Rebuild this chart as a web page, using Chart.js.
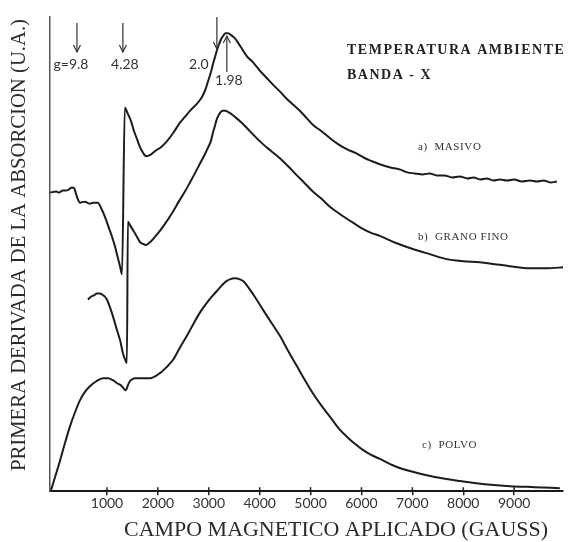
<!DOCTYPE html>
<html>
<head>
<meta charset="utf-8">
<script src="https://cdn.jsdelivr.net/npm/chart.js@4.4.0/dist/chart.umd.min.js"></script>
<style>
  html, body { margin: 0; padding: 0; background: #fff; }
  #wrap { width: 574px; height: 542px; }
</style>
</head>
<body>
<div id="wrap"><canvas id="chart"></canvas></div>
<script>
// tick labels on the field axis (gauss)
const fieldTicks = [1000, 2000, 3000, 4000, 5000, 6000, 7000, 8000, 9000];

// a) MASIVO
const masivoX = [-115, 0, 60, 130, 190, 250, 310, 360, 390, 430,
  470, 560, 660, 740, 820, 890, 960, 1030, 1100, 1160,
  1210, 1260, 1295, 1350, 1410, 1470, 1530, 1590, 1640, 1690,
  1740, 1780, 1840, 1940, 2060, 2180, 2300, 2430, 2530, 2630,
  2730, 2830, 2890, 2940, 2990, 3040, 3080, 3120, 3160, 3200,
  3240, 3280, 3330, 3380, 3440, 3510, 3620, 3750, 3870, 4000,
  4130, 4260, 4400, 4530, 4660, 4790, 4920, 5050, 5210, 5380,
  5540, 5710, 5890, 6070, 6210, 6360, 6550, 6750, 6900, 7050,
  7200, 7340, 7480, 7630, 7780, 7930, 8080, 8200, 8330, 8460,
  8590, 8720, 8860, 9000, 9150, 9310, 9450, 9580, 9710, 9840];
const masivoY = [296, 297, 296, 298, 298, 299, 301, 300, 295, 289,
  286, 287, 285, 286, 286, 280, 272, 262, 252, 242,
  232, 222, 215, 380, 374, 367, 357, 349, 342, 337,
  333, 332, 333, 337, 341, 347, 355, 365, 371, 377,
  382, 388, 393, 399, 407, 415, 423, 430, 437, 443,
  448, 451, 454, 454, 452, 449, 441, 431, 425, 417,
  410, 403, 396, 389, 383, 377, 370, 363, 357, 350,
  344, 339, 335, 330, 327, 324, 321, 319, 316, 315,
  314, 315, 313, 313, 311, 312, 310, 311, 309, 310,
  308, 309, 308, 309, 307, 308, 307, 308, 306, 307];

// b) GRANO FINO
const granoX = [625, 690, 743, 800, 861, 930, 998, 1100, 1194, 1260,
  1312, 1360, 1391, 1410, 1460, 1509, 1580, 1646, 1710, 1764,
  1850, 1941, 2098, 2295, 2410, 2531, 2630, 2727, 2830, 2923,
  2980, 3041, 3080, 3120, 3160, 3198, 3240, 3277, 3330, 3375,
  3440, 3513, 3630, 3748, 3900, 4063, 4230, 4397, 4560, 4731,
  4890, 5045, 5210, 5379, 5540, 5713, 5870, 6027, 6190, 6361,
  6680, 7009, 7340, 7677, 8000, 8326, 8620, 8916, 9308, 9650,
  9990];
const granoY = [190, 193, 194, 196, 196, 194, 190, 176, 160, 149,
  137, 130, 127, 267, 263, 259, 253, 247, 245, 244,
  247, 252, 262, 277, 287, 297, 306, 315, 325, 334,
  340, 347, 355, 362, 369, 373, 376, 377, 377, 376,
  374, 371, 366, 360, 352, 344, 337, 330, 322, 313,
  305, 297, 290, 282, 276, 270, 265, 260, 256, 253,
  246, 240, 235, 230, 228, 227, 225, 223, 221, 221,
  222];

// c) POLVO
const polvoX = [-100, 75, 170, 271, 370, 468, 560, 664, 790, 919,
  1020, 1115, 1200, 1293, 1340, 1371, 1410, 1450, 1500, 1548,
  1700, 1843, 2039, 2170, 2295, 2430, 2570, 2700, 2825, 2950,
  3080, 3170, 3257, 3340, 3414, 3513, 3611, 3680, 3748, 3900,
  4063, 4230, 4397, 4560, 4731, 4890, 5045, 5210, 5379, 5540,
  5713, 5870, 6027, 6190, 6361, 6650, 6950, 7440, 7933, 8420,
  8916, 9400, 9898];
const polvoY = [1, 30, 47, 64, 78, 90, 98, 104, 109, 112,
  112, 110, 107, 104, 101, 100, 105, 109, 111, 112,
  112, 112, 117, 123, 130, 142, 154, 166, 177, 186,
  194, 199, 204, 208, 210, 211, 210, 208, 204, 193,
  180, 167, 154, 139, 124, 110, 97, 85, 74, 63,
  54, 47, 41, 36, 32, 25, 20, 14, 10, 7,
  5, 4, 3];

// g-value markers (field in gauss)
const markerField = [410, 1312, 3159, 3355];
const markerText = ["g=9.8", "4.28", "2.0", "1.98"];

const seriesNames = ["a)  MASIVO", "b)  GRANO FINO", "c)  POLVO"];

function pts(xs, ys) {
  return xs.map((x, i) => ({ x: x, y: ys[i] }));
}

const ink = "#1c1c1c";
const serif = '"Liberation Serif", "DejaVu Serif", serif';
const sans = 'Lato, "DejaVu Sans", sans-serif';

const annotations = {
  id: "annotations",
  afterDraw(chart) {
    const ctx = chart.ctx;
    const xs = chart.scales.x;
    const area = chart.chartArea;
    ctx.save();

    // upper half of the tick crosses
    ctx.strokeStyle = "#222";
    ctx.lineWidth = 1.5;
    fieldTicks.forEach(v => {
      const x = xs.getPixelForValue(v);
      ctx.beginPath();
      ctx.moveTo(x, area.bottom);
      ctx.lineTo(x, area.bottom - 4);
      ctx.stroke();
    });

    ctx.strokeStyle = "#333";
    ctx.fillStyle = "#333";
    ctx.lineWidth = 1.2;

    function arrow(x, y1, y2) {
      ctx.beginPath();
      ctx.moveTo(x, y1);
      ctx.lineTo(x, y2);
      ctx.stroke();
      const d = y2 > y1 ? -1 : 1;
      ctx.beginPath();
      ctx.moveTo(x - 3.5, y2 + d * 7);
      ctx.lineTo(x, y2);
      ctx.lineTo(x + 3.5, y2 + d * 7);
      ctx.stroke();
    }

    // g arrows
    const px = markerField.map(v => xs.getPixelForValue(v));
    arrow(px[0], 23, 52);
    arrow(px[1], 23, 52);
    arrow(px[2], 17, 49);
    arrow(px[3], 72, 36);

    ctx.font = "14px " + sans;
    ctx.textBaseline = "middle";
    ctx.textAlign = "center";
    ctx.fillText(markerText[0], px[0] - 6, 64);
    ctx.fillText(markerText[1], px[1] + 2, 64);
    ctx.fillText(markerText[2], px[2] - 18, 64);
    ctx.fillText(markerText[3], px[3] + 2, 80);

    // header
    ctx.fillStyle = "#222";
    ctx.textAlign = "left";
    ctx.font = "bold 14px " + serif;
    ctx.letterSpacing = "1.5px";
    ctx.fillText("TEMPERATURA AMBIENTE", 347, 50, 224);
    ctx.fillText("BANDA - X", 347, 75);

    // series labels
    ctx.font = "11px " + serif;
    ctx.letterSpacing = "0.6px";
    ctx.fillStyle = "#333";
    ctx.fillText(seriesNames[0], 418, 147);
    ctx.fillText(seriesNames[1], 418, 237);
    ctx.fillText(seriesNames[2], 422, 445);

    // axis titles
    ctx.letterSpacing = "0px";
    ctx.fillStyle = "#2a2a2a";
    ctx.font = "22px " + serif;
    ctx.textAlign = "center";
    ctx.fillText("CAMPO MAGNETICO APLICADO (GAUSS)", 336, 530, 424);
    ctx.translate(19, 245);
    ctx.rotate(-Math.PI / 2);
    ctx.font = "21px " + serif;
    ctx.fillText("PRIMERA DERIVADA DE LA ABSORCION (U.A.)", 0, 0, 452);
    ctx.restore();
  }
};

const lineStyle = {
  borderColor: ink,
  borderWidth: 2,
  pointRadius: 0,
  fill: false,
  cubicInterpolationMode: "monotone"
};

new Chart(document.getElementById("chart"), {
  type: "line",
  data: {
    datasets: [
      Object.assign({ label: seriesNames[0], data: pts(masivoX, masivoY) }, lineStyle),
      Object.assign({ label: seriesNames[1], data: pts(granoX, granoY) }, lineStyle),
      Object.assign({ label: seriesNames[2], data: pts(polvoX, polvoY) }, lineStyle)
    ]
  },
  options: {
    responsive: true,
    maintainAspectRatio: false,
    animation: false,
    layout: { padding: { left: 50, right: 11, top: 17, bottom: 30 } },
    plugins: {
      legend: { display: false },
      title: { display: false },
      tooltip: { enabled: false }
    },
    scales: {
      x: {
        type: "linear",
        min: -120,
        max: 9960,
        afterBuildTicks: s => { s.ticks = fieldTicks.map(v => ({ value: v })); },
        grid: { drawOnChartArea: false, drawTicks: true, tickLength: 4, color: "#222", lineWidth: 1.5 },
        border: { display: true, color: "#1a1a1a", width: 2 },
        ticks: {
          color: "#333",
          padding: 0,
          maxRotation: 0,
          autoSkip: false,
          font: { family: sans, size: 14 },
          callback: v => String(v)
        }
      },
      y: {
        type: "linear",
        min: 0,
        max: 470,
        grid: { display: false, drawTicks: false },
        border: { display: true, color: "#555", width: 1.5 },
        ticks: { display: false }
      }
    }
  },
  plugins: [annotations]
});
</script>
</body>
</html>
